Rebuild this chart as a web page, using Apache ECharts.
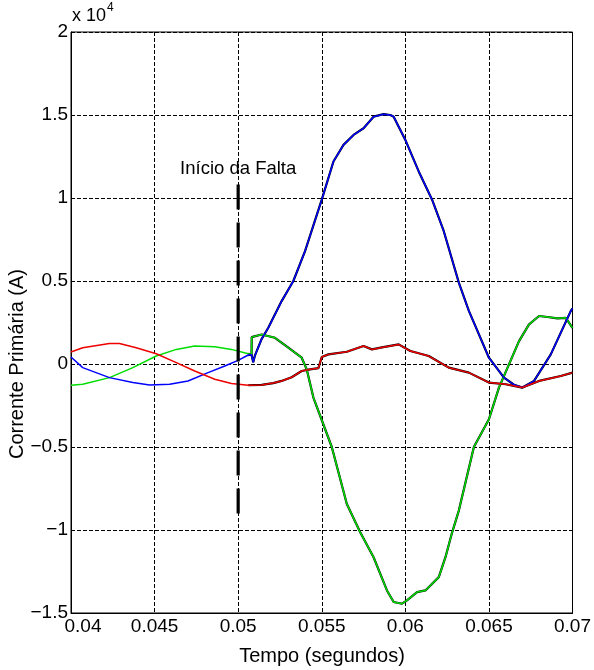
<!DOCTYPE html>
<html>
<head>
<meta charset="utf-8">
<script src="https://cdn.jsdelivr.net/npm/echarts@6/dist/echarts.min.js"></script>
<style>
html,body{margin:0;padding:0;background:#fff;}
#chart{width:594px;height:670px;}
</style>
</head>
<body>
<div id="chart"></div>
<script>
// [time (s), current (A)]
const blueCurrent = [
  [0.0400, 420], [0.0407, -220], [0.0423, -820], [0.0437, -1120], [0.0447, -1260],
  [0.0459, -1220], [0.0470, -1020], [0.0482, -520], [0.0492, -120], [0.0500, 220],
  [0.0506, 540], [0.0508, 560], [0.0509, 100], [0.0510, 500], [0.0514, 1500],
  [0.0518, 2180], [0.0526, 3790], [0.0533, 5000], [0.0540, 6800], [0.0550, 9900],
  [0.0557, 12200], [0.0563, 13200], [0.0569, 13800], [0.0575, 14200], [0.0581, 14900],
  [0.0587, 15050], [0.0591, 15000], [0.0593, 14900], [0.0600, 13500], [0.0608, 11600],
  [0.0616, 9900], [0.0623, 8000], [0.0632, 4900], [0.0638, 3200], [0.0650, 380],
  [0.0659, -820], [0.0665, -1250], [0.0670, -1420], [0.0677, -1020], [0.0687, 580],
  [0.0699, 3200], [0.0700, 3350]
];
const greenCurrent = [
  [0.0400, -1280], [0.0407, -1220], [0.0423, -820], [0.0437, -220], [0.0451, 480],
  [0.0463, 880], [0.0474, 1080], [0.0486, 1040], [0.0496, 880], [0.0506, 620],
  [0.0508, 580], [0.05081, 1620], [0.0514, 1780], [0.0522, 1580], [0.0530, 980],
  [0.0538, 380], [0.0541, -320], [0.0545, -2020], [0.0556, -5000], [0.0565, -8430],
  [0.0573, -10140], [0.0581, -11640], [0.0589, -13640], [0.0593, -14340], [0.0598, -14440],
  [0.0601, -14240], [0.0607, -13740], [0.0612, -13640], [0.0620, -12840], [0.0624, -11640],
  [0.0628, -10140], [0.0632, -8830], [0.0641, -5000], [0.0650, -3330], [0.0656, -1420],
  [0.0662, -20], [0.0668, 1380], [0.0674, 2390], [0.0680, 2890], [0.0685, 2830],
  [0.0691, 2750], [0.0696, 2780], [0.0700, 2180]
];
const redCurrent = [
  [0.0400, 720], [0.0407, 980], [0.0423, 1240], [0.0429, 1240], [0.0439, 980],
  [0.0451, 620], [0.0463, 80], [0.0474, -420], [0.0486, -920], [0.0496, -1180],
  [0.0506, -1280], [0.0514, -1260], [0.0521, -1150], [0.0526, -1020], [0.0532, -800],
  [0.0538, -420], [0.0543, -320], [0.0548, -250], [0.0550, 420], [0.0554, 580],
  [0.0565, 740], [0.0575, 1080], [0.0580, 880], [0.0586, 1000], [0.0596, 1180],
  [0.0603, 780], [0.0614, 480], [0.0626, -220], [0.0638, -520], [0.0650, -1120],
  [0.0660, -1220], [0.0670, -1420], [0.0680, -1020], [0.0693, -720], [0.0700, -520]
];
const faultLine = [[0.05, -9000], [0.05, 11000]];
const faultLabelPoint = [[0.05, 11000]];
const faultLabelText = 'Início da Falta';
const xAxisTitle = 'Tempo (segundos)';
const yAxisTitle = 'Corrente Primária (A)';
const xRange = [0.04, 0.07, 0.005];
const yRange = [-15000, 20000, 5000];
const yScale = 10000;

const FONT = "'Liberation Sans', Arial, Helvetica, sans-serif";
const FS = 19;
const FT = 20;
const afterFault = d => d.filter(p => p[0] >= 0.0505);

const chart = echarts.init(document.getElementById('chart'), null, {renderer: 'canvas'});
const blackTrace = data => ({
  type: 'line', data: afterFault(data), symbol: 'none', silent: true, z: 2,
  lineStyle: {color: '#000', width: 2.2}
});
const colorTrace = (data, color) => ({
  type: 'line', data: data, symbol: 'none', silent: true, z: 3,
  lineStyle: {color: color, width: 1.5}
});

chart.setOption({
  animation: false,
  backgroundColor: '#fff',
  grid: {left: 71, right: 16, top: 32, bottom: 57, show: true, borderColor: '#000', borderWidth: 1},
  xAxis: {
    type: 'value', min: xRange[0], max: xRange[1], interval: xRange[2],
    axisLine: {show: true, onZero: false, lineStyle: {color: '#000', width: 1}},
    axisTick: {show: false},
    axisLabel: {
      color: '#000', fontSize: FS, fontFamily: FONT, margin: 4,
      formatter: v => {
        const s = String(+v.toFixed(3));
        return Math.abs(v - xRange[0]) < 1e-9 ? '{m|' + s + '}' : s;
      },
      rich: {m: {fontSize: FS, fontFamily: FONT, color: '#000', padding: [0, 0, 0, 24]}}
    },
    splitLine: {show: true, lineStyle: {color: '#000', width: 1, type: [4, 2]}}
  },
  yAxis: {
    type: 'value', min: yRange[0], max: yRange[1], interval: yRange[2],
    axisLine: {show: true, onZero: false, lineStyle: {color: '#000', width: 1}},
    axisTick: {show: false},
    axisLabel: {
      color: '#000', fontSize: FS, fontFamily: FONT, margin: 3,
      formatter: v => String(+(v / yScale).toFixed(2)).replace('-', '\u2212')
    },
    splitLine: {show: true, lineStyle: {color: '#000', width: 1, type: [4, 2]}}
  },
  series: [
    blackTrace(blueCurrent), blackTrace(greenCurrent), blackTrace(redCurrent),
    colorTrace(greenCurrent, '#00dd00'),
    colorTrace(blueCurrent, '#0000ff'),
    colorTrace(redCurrent, '#ee0000'),
    {
      type: 'line', data: faultLine, symbol: 'none', silent: true, z: 5,
      lineStyle: {color: '#000', width: 3.2, type: [25, 13]}
    },
    {
      type: 'scatter', data: faultLabelPoint, symbolSize: 0, silent: true, z: 6,
      itemStyle: {opacity: 1, color: '#000'},
      label: {show: true, position: 'top', distance: 3, formatter: faultLabelText,
        color: '#000', opacity: 1, fontSize: 18.5, fontFamily: FONT}
    }
  ],
  graphic: [
    {type: 'text', left: 72, top: 7, style: {text: 'x 10', fontSize: 18, fontFamily: FONT, fill: '#000'}},
    {type: 'text', left: 107, top: 2, style: {text: '4', fontSize: 12, fontFamily: FONT, fill: '#000'}},
    {type: 'text', x: 7, y: 364, rotation: Math.PI / 2,
      style: {text: yAxisTitle, fontSize: FT, fontFamily: FONT, fill: '#000', align: 'center', verticalAlign: 'top'}},
    {type: 'text', x: 322, y: 646,
      style: {text: xAxisTitle, fontSize: FT, fontFamily: FONT, fill: '#000', align: 'center', verticalAlign: 'top'}}
  ]
});
</script>
</body>
</html>
